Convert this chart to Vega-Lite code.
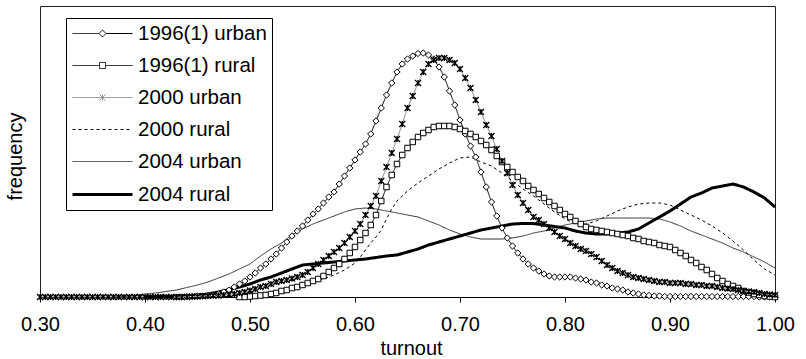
{
"$schema": "https://vega.github.io/schema/vega-lite/v6.json",
"width": 735,
"height": 291,
"autosize": {"type": "none"},
"padding": {"left": 40, "top": 6, "right": 31, "bottom": 62},
"config": {"view": {"stroke": "#222", "strokeWidth": 1}, "font": "Liberation Sans",
  "legend": {"title": null, "orient": "none", "legendX": 26, "legendY": 12, "padding": 5, "rowPadding": 11, "symbolSize": 400,
             "labelFont": "Liberation Sans", "labelFontSize": 20.5, "labelColor": "#000", "labelOffset": 44, "labelLimit": 400,
             "strokeColor": "#000", "fillColor": "#fff"}},
"datasets": {"curves": [
{"s":"1996(1) urban","t":0.43,"f":0},{"s":"1996(1) urban","t":0.435,"f":0},{"s":"1996(1) urban","t":0.44,"f":0.5},{"s":"1996(1) urban","t":0.445,"f":0.5},{"s":"1996(1) urban","t":0.45,"f":1},{"s":"1996(1) urban","t":0.455,"f":1},{"s":"1996(1) urban","t":0.46,"f":1.5},{"s":"1996(1) urban","t":0.465,"f":2},{"s":"1996(1) urban","t":0.47,"f":3},{"s":"1996(1) urban","t":0.475,"f":5},{"s":"1996(1) urban","t":0.48,"f":7},{"s":"1996(1) urban","t":0.485,"f":10},{"s":"1996(1) urban","t":0.49,"f":13},{"s":"1996(1) urban","t":0.495,"f":16},{"s":"1996(1) urban","t":0.5,"f":20},{"s":"1996(1) urban","t":0.505,"f":24},{"s":"1996(1) urban","t":0.51,"f":29},{"s":"1996(1) urban","t":0.515,"f":33},{"s":"1996(1) urban","t":0.52,"f":38},{"s":"1996(1) urban","t":0.525,"f":43},{"s":"1996(1) urban","t":0.53,"f":49},{"s":"1996(1) urban","t":0.535,"f":55},{"s":"1996(1) urban","t":0.54,"f":61},{"s":"1996(1) urban","t":0.545,"f":66},{"s":"1996(1) urban","t":0.55,"f":71},{"s":"1996(1) urban","t":0.555,"f":77},{"s":"1996(1) urban","t":0.56,"f":83},{"s":"1996(1) urban","t":0.565,"f":88},{"s":"1996(1) urban","t":0.57,"f":94},{"s":"1996(1) urban","t":0.575,"f":100},{"s":"1996(1) urban","t":0.58,"f":105},{"s":"1996(1) urban","t":0.585,"f":113},{"s":"1996(1) urban","t":0.59,"f":121},{"s":"1996(1) urban","t":0.595,"f":129},{"s":"1996(1) urban","t":0.6,"f":137},{"s":"1996(1) urban","t":0.605,"f":145},{"s":"1996(1) urban","t":0.61,"f":153},{"s":"1996(1) urban","t":0.615,"f":163},{"s":"1996(1) urban","t":0.62,"f":176},{"s":"1996(1) urban","t":0.625,"f":189},{"s":"1996(1) urban","t":0.63,"f":202},{"s":"1996(1) urban","t":0.635,"f":214},{"s":"1996(1) urban","t":0.64,"f":225},{"s":"1996(1) urban","t":0.645,"f":233},{"s":"1996(1) urban","t":0.65,"f":238},{"s":"1996(1) urban","t":0.655,"f":241},{"s":"1996(1) urban","t":0.66,"f":243.5},{"s":"1996(1) urban","t":0.665,"f":244},{"s":"1996(1) urban","t":0.67,"f":242},{"s":"1996(1) urban","t":0.675,"f":238},{"s":"1996(1) urban","t":0.68,"f":230},{"s":"1996(1) urban","t":0.685,"f":220},{"s":"1996(1) urban","t":0.69,"f":206},{"s":"1996(1) urban","t":0.695,"f":192},{"s":"1996(1) urban","t":0.7,"f":177},{"s":"1996(1) urban","t":0.705,"f":163},{"s":"1996(1) urban","t":0.71,"f":151},{"s":"1996(1) urban","t":0.715,"f":140},{"s":"1996(1) urban","t":0.72,"f":125},{"s":"1996(1) urban","t":0.725,"f":110},{"s":"1996(1) urban","t":0.73,"f":95},{"s":"1996(1) urban","t":0.735,"f":81},{"s":"1996(1) urban","t":0.74,"f":69},{"s":"1996(1) urban","t":0.745,"f":59},{"s":"1996(1) urban","t":0.75,"f":51},{"s":"1996(1) urban","t":0.755,"f":44},{"s":"1996(1) urban","t":0.76,"f":38},{"s":"1996(1) urban","t":0.765,"f":33},{"s":"1996(1) urban","t":0.77,"f":29},{"s":"1996(1) urban","t":0.775,"f":26},{"s":"1996(1) urban","t":0.78,"f":23},{"s":"1996(1) urban","t":0.785,"f":21},{"s":"1996(1) urban","t":0.79,"f":20},{"s":"1996(1) urban","t":0.795,"f":20},{"s":"1996(1) urban","t":0.8,"f":20},{"s":"1996(1) urban","t":0.805,"f":20},{"s":"1996(1) urban","t":0.81,"f":19},{"s":"1996(1) urban","t":0.815,"f":18},{"s":"1996(1) urban","t":0.82,"f":17},{"s":"1996(1) urban","t":0.825,"f":15},{"s":"1996(1) urban","t":0.83,"f":14},{"s":"1996(1) urban","t":0.835,"f":12},{"s":"1996(1) urban","t":0.84,"f":11},{"s":"1996(1) urban","t":0.845,"f":9},{"s":"1996(1) urban","t":0.85,"f":8},{"s":"1996(1) urban","t":0.855,"f":7},{"s":"1996(1) urban","t":0.86,"f":5},{"s":"1996(1) urban","t":0.865,"f":4},{"s":"1996(1) urban","t":0.87,"f":3},{"s":"1996(1) urban","t":0.875,"f":2},{"s":"1996(1) urban","t":0.88,"f":1.5},{"s":"1996(1) urban","t":0.885,"f":1},{"s":"1996(1) urban","t":0.89,"f":1},{"s":"1996(1) urban","t":0.895,"f":0.5},{"s":"1996(1) urban","t":0.9,"f":0.5},{"s":"1996(1) urban","t":0.905,"f":0.5},{"s":"1996(1) urban","t":0.91,"f":0.5},{"s":"1996(1) urban","t":0.915,"f":0.5},{"s":"1996(1) urban","t":0.92,"f":0.5},{"s":"1996(1) urban","t":0.925,"f":0.5},{"s":"1996(1) urban","t":0.93,"f":0.5},{"s":"1996(1) urban","t":0.935,"f":0.5},{"s":"1996(1) urban","t":0.94,"f":0.5},{"s":"1996(1) urban","t":0.945,"f":0.5},{"s":"1996(1) urban","t":0.95,"f":0.5},{"s":"1996(1) urban","t":0.955,"f":0.5},{"s":"1996(1) urban","t":0.96,"f":0.5},{"s":"1996(1) urban","t":0.965,"f":0.5},{"s":"1996(1) urban","t":0.97,"f":0.5},{"s":"1996(1) urban","t":0.975,"f":0.5},{"s":"1996(1) urban","t":0.98,"f":0.5},{"s":"1996(1) urban","t":0.985,"f":0},{"s":"1996(1) urban","t":0.99,"f":0},{"s":"1996(1) urban","t":0.995,"f":0},{"s":"1996(1) urban","t":1.0,"f":0},
{"s":"1996(1) rural","t":0.49,"f":0},{"s":"1996(1) rural","t":0.495,"f":0},{"s":"1996(1) rural","t":0.5,"f":0.5},{"s":"1996(1) rural","t":0.505,"f":1},{"s":"1996(1) rural","t":0.51,"f":1.5},{"s":"1996(1) rural","t":0.515,"f":2},{"s":"1996(1) rural","t":0.52,"f":3},{"s":"1996(1) rural","t":0.525,"f":4},{"s":"1996(1) rural","t":0.53,"f":6},{"s":"1996(1) rural","t":0.535,"f":7},{"s":"1996(1) rural","t":0.54,"f":9},{"s":"1996(1) rural","t":0.545,"f":10},{"s":"1996(1) rural","t":0.55,"f":12},{"s":"1996(1) rural","t":0.555,"f":14},{"s":"1996(1) rural","t":0.56,"f":16},{"s":"1996(1) rural","t":0.565,"f":18},{"s":"1996(1) rural","t":0.57,"f":21},{"s":"1996(1) rural","t":0.575,"f":25},{"s":"1996(1) rural","t":0.58,"f":29},{"s":"1996(1) rural","t":0.585,"f":33},{"s":"1996(1) rural","t":0.59,"f":38},{"s":"1996(1) rural","t":0.595,"f":44},{"s":"1996(1) rural","t":0.6,"f":50},{"s":"1996(1) rural","t":0.605,"f":57},{"s":"1996(1) rural","t":0.61,"f":64},{"s":"1996(1) rural","t":0.615,"f":72},{"s":"1996(1) rural","t":0.62,"f":82},{"s":"1996(1) rural","t":0.625,"f":96},{"s":"1996(1) rural","t":0.63,"f":110},{"s":"1996(1) rural","t":0.635,"f":122},{"s":"1996(1) rural","t":0.64,"f":133},{"s":"1996(1) rural","t":0.645,"f":142},{"s":"1996(1) rural","t":0.65,"f":149},{"s":"1996(1) rural","t":0.655,"f":155},{"s":"1996(1) rural","t":0.66,"f":160},{"s":"1996(1) rural","t":0.665,"f":164},{"s":"1996(1) rural","t":0.67,"f":167},{"s":"1996(1) rural","t":0.675,"f":170},{"s":"1996(1) rural","t":0.68,"f":171},{"s":"1996(1) rural","t":0.685,"f":171},{"s":"1996(1) rural","t":0.69,"f":171},{"s":"1996(1) rural","t":0.695,"f":170},{"s":"1996(1) rural","t":0.7,"f":168},{"s":"1996(1) rural","t":0.705,"f":166},{"s":"1996(1) rural","t":0.71,"f":163},{"s":"1996(1) rural","t":0.715,"f":160},{"s":"1996(1) rural","t":0.72,"f":156},{"s":"1996(1) rural","t":0.725,"f":152},{"s":"1996(1) rural","t":0.73,"f":147},{"s":"1996(1) rural","t":0.735,"f":141},{"s":"1996(1) rural","t":0.74,"f":135},{"s":"1996(1) rural","t":0.745,"f":130},{"s":"1996(1) rural","t":0.75,"f":125},{"s":"1996(1) rural","t":0.755,"f":120},{"s":"1996(1) rural","t":0.76,"f":116},{"s":"1996(1) rural","t":0.765,"f":111},{"s":"1996(1) rural","t":0.77,"f":107},{"s":"1996(1) rural","t":0.775,"f":103},{"s":"1996(1) rural","t":0.78,"f":99},{"s":"1996(1) rural","t":0.785,"f":95},{"s":"1996(1) rural","t":0.79,"f":91},{"s":"1996(1) rural","t":0.795,"f":87},{"s":"1996(1) rural","t":0.8,"f":83},{"s":"1996(1) rural","t":0.805,"f":80},{"s":"1996(1) rural","t":0.81,"f":76},{"s":"1996(1) rural","t":0.815,"f":73},{"s":"1996(1) rural","t":0.82,"f":70},{"s":"1996(1) rural","t":0.825,"f":68},{"s":"1996(1) rural","t":0.83,"f":67},{"s":"1996(1) rural","t":0.835,"f":66},{"s":"1996(1) rural","t":0.84,"f":65},{"s":"1996(1) rural","t":0.845,"f":64},{"s":"1996(1) rural","t":0.85,"f":63},{"s":"1996(1) rural","t":0.855,"f":62},{"s":"1996(1) rural","t":0.86,"f":61},{"s":"1996(1) rural","t":0.865,"f":59},{"s":"1996(1) rural","t":0.87,"f":58},{"s":"1996(1) rural","t":0.875,"f":56},{"s":"1996(1) rural","t":0.88,"f":55},{"s":"1996(1) rural","t":0.885,"f":54},{"s":"1996(1) rural","t":0.89,"f":52},{"s":"1996(1) rural","t":0.895,"f":51},{"s":"1996(1) rural","t":0.9,"f":50},{"s":"1996(1) rural","t":0.905,"f":47},{"s":"1996(1) rural","t":0.91,"f":44},{"s":"1996(1) rural","t":0.915,"f":41},{"s":"1996(1) rural","t":0.92,"f":37},{"s":"1996(1) rural","t":0.925,"f":34},{"s":"1996(1) rural","t":0.93,"f":30},{"s":"1996(1) rural","t":0.935,"f":27},{"s":"1996(1) rural","t":0.94,"f":23},{"s":"1996(1) rural","t":0.945,"f":19},{"s":"1996(1) rural","t":0.95,"f":16},{"s":"1996(1) rural","t":0.955,"f":13},{"s":"1996(1) rural","t":0.96,"f":11},{"s":"1996(1) rural","t":0.965,"f":9},{"s":"1996(1) rural","t":0.97,"f":6},{"s":"1996(1) rural","t":0.975,"f":4.5},{"s":"1996(1) rural","t":0.98,"f":3},{"s":"1996(1) rural","t":0.985,"f":2},{"s":"1996(1) rural","t":0.99,"f":1},{"s":"1996(1) rural","t":0.995,"f":0.5},{"s":"1996(1) rural","t":1.0,"f":0},
{"s":"2000 urban","t":0.3,"f":0},{"s":"2000 urban","t":0.305,"f":0},{"s":"2000 urban","t":0.31,"f":0},{"s":"2000 urban","t":0.315,"f":0},{"s":"2000 urban","t":0.32,"f":0},{"s":"2000 urban","t":0.325,"f":0},{"s":"2000 urban","t":0.33,"f":0},{"s":"2000 urban","t":0.335,"f":0},{"s":"2000 urban","t":0.34,"f":0},{"s":"2000 urban","t":0.345,"f":0},{"s":"2000 urban","t":0.35,"f":0},{"s":"2000 urban","t":0.355,"f":0},{"s":"2000 urban","t":0.36,"f":0},{"s":"2000 urban","t":0.365,"f":0},{"s":"2000 urban","t":0.37,"f":0},{"s":"2000 urban","t":0.375,"f":0},{"s":"2000 urban","t":0.38,"f":0},{"s":"2000 urban","t":0.385,"f":0},{"s":"2000 urban","t":0.39,"f":0},{"s":"2000 urban","t":0.395,"f":0},{"s":"2000 urban","t":0.4,"f":0},{"s":"2000 urban","t":0.405,"f":0},{"s":"2000 urban","t":0.41,"f":0},{"s":"2000 urban","t":0.415,"f":0},{"s":"2000 urban","t":0.42,"f":0},{"s":"2000 urban","t":0.425,"f":0},{"s":"2000 urban","t":0.43,"f":0},{"s":"2000 urban","t":0.435,"f":0},{"s":"2000 urban","t":0.44,"f":0},{"s":"2000 urban","t":0.445,"f":0.5},{"s":"2000 urban","t":0.45,"f":0.5},{"s":"2000 urban","t":0.455,"f":1},{"s":"2000 urban","t":0.46,"f":1},{"s":"2000 urban","t":0.465,"f":1.5},{"s":"2000 urban","t":0.47,"f":1.5},{"s":"2000 urban","t":0.475,"f":2},{"s":"2000 urban","t":0.48,"f":2.5},{"s":"2000 urban","t":0.485,"f":3},{"s":"2000 urban","t":0.49,"f":4},{"s":"2000 urban","t":0.495,"f":5},{"s":"2000 urban","t":0.5,"f":6.5},{"s":"2000 urban","t":0.505,"f":8},{"s":"2000 urban","t":0.51,"f":10},{"s":"2000 urban","t":0.515,"f":11},{"s":"2000 urban","t":0.52,"f":13},{"s":"2000 urban","t":0.525,"f":15},{"s":"2000 urban","t":0.53,"f":16},{"s":"2000 urban","t":0.535,"f":17},{"s":"2000 urban","t":0.54,"f":18.5},{"s":"2000 urban","t":0.545,"f":20},{"s":"2000 urban","t":0.55,"f":22},{"s":"2000 urban","t":0.555,"f":25},{"s":"2000 urban","t":0.56,"f":29},{"s":"2000 urban","t":0.565,"f":33},{"s":"2000 urban","t":0.57,"f":37},{"s":"2000 urban","t":0.575,"f":41},{"s":"2000 urban","t":0.58,"f":45},{"s":"2000 urban","t":0.585,"f":49},{"s":"2000 urban","t":0.59,"f":54},{"s":"2000 urban","t":0.595,"f":60},{"s":"2000 urban","t":0.6,"f":66},{"s":"2000 urban","t":0.605,"f":73},{"s":"2000 urban","t":0.61,"f":82},{"s":"2000 urban","t":0.615,"f":91},{"s":"2000 urban","t":0.62,"f":101},{"s":"2000 urban","t":0.625,"f":116},{"s":"2000 urban","t":0.63,"f":130},{"s":"2000 urban","t":0.635,"f":144},{"s":"2000 urban","t":0.64,"f":158},{"s":"2000 urban","t":0.645,"f":173},{"s":"2000 urban","t":0.65,"f":189},{"s":"2000 urban","t":0.655,"f":201},{"s":"2000 urban","t":0.66,"f":214},{"s":"2000 urban","t":0.665,"f":225},{"s":"2000 urban","t":0.67,"f":233},{"s":"2000 urban","t":0.675,"f":237},{"s":"2000 urban","t":0.68,"f":239},{"s":"2000 urban","t":0.685,"f":239},{"s":"2000 urban","t":0.69,"f":237},{"s":"2000 urban","t":0.695,"f":234},{"s":"2000 urban","t":0.7,"f":228},{"s":"2000 urban","t":0.705,"f":219},{"s":"2000 urban","t":0.71,"f":209},{"s":"2000 urban","t":0.715,"f":197},{"s":"2000 urban","t":0.72,"f":185},{"s":"2000 urban","t":0.725,"f":172},{"s":"2000 urban","t":0.73,"f":161},{"s":"2000 urban","t":0.735,"f":148},{"s":"2000 urban","t":0.74,"f":136},{"s":"2000 urban","t":0.745,"f":124},{"s":"2000 urban","t":0.75,"f":112},{"s":"2000 urban","t":0.755,"f":102},{"s":"2000 urban","t":0.76,"f":94},{"s":"2000 urban","t":0.765,"f":87},{"s":"2000 urban","t":0.77,"f":80},{"s":"2000 urban","t":0.775,"f":77},{"s":"2000 urban","t":0.78,"f":73},{"s":"2000 urban","t":0.785,"f":69},{"s":"2000 urban","t":0.79,"f":65},{"s":"2000 urban","t":0.795,"f":61},{"s":"2000 urban","t":0.8,"f":58},{"s":"2000 urban","t":0.805,"f":54},{"s":"2000 urban","t":0.81,"f":51},{"s":"2000 urban","t":0.815,"f":48},{"s":"2000 urban","t":0.82,"f":46},{"s":"2000 urban","t":0.825,"f":43},{"s":"2000 urban","t":0.83,"f":40},{"s":"2000 urban","t":0.835,"f":36},{"s":"2000 urban","t":0.84,"f":32},{"s":"2000 urban","t":0.845,"f":29},{"s":"2000 urban","t":0.85,"f":26},{"s":"2000 urban","t":0.855,"f":24},{"s":"2000 urban","t":0.86,"f":22},{"s":"2000 urban","t":0.865,"f":20},{"s":"2000 urban","t":0.87,"f":19},{"s":"2000 urban","t":0.875,"f":18},{"s":"2000 urban","t":0.88,"f":17},{"s":"2000 urban","t":0.885,"f":16},{"s":"2000 urban","t":0.89,"f":15},{"s":"2000 urban","t":0.895,"f":15},{"s":"2000 urban","t":0.9,"f":14},{"s":"2000 urban","t":0.905,"f":14},{"s":"2000 urban","t":0.91,"f":14},{"s":"2000 urban","t":0.915,"f":13},{"s":"2000 urban","t":0.92,"f":13},{"s":"2000 urban","t":0.925,"f":12},{"s":"2000 urban","t":0.93,"f":12},{"s":"2000 urban","t":0.935,"f":11},{"s":"2000 urban","t":0.94,"f":11},{"s":"2000 urban","t":0.945,"f":10},{"s":"2000 urban","t":0.95,"f":9},{"s":"2000 urban","t":0.955,"f":8.5},{"s":"2000 urban","t":0.96,"f":8},{"s":"2000 urban","t":0.965,"f":7},{"s":"2000 urban","t":0.97,"f":6},{"s":"2000 urban","t":0.975,"f":5.5},{"s":"2000 urban","t":0.98,"f":5},{"s":"2000 urban","t":0.985,"f":4},{"s":"2000 urban","t":0.99,"f":3},{"s":"2000 urban","t":0.995,"f":2.5},{"s":"2000 urban","t":1.0,"f":2},
{"s":"2000 rural","t":0.5,"f":0},{"s":"2000 rural","t":0.51,"f":0.5},{"s":"2000 rural","t":0.52,"f":1},{"s":"2000 rural","t":0.53,"f":4},{"s":"2000 rural","t":0.54,"f":7},{"s":"2000 rural","t":0.55,"f":10},{"s":"2000 rural","t":0.56,"f":14},{"s":"2000 rural","t":0.57,"f":18},{"s":"2000 rural","t":0.58,"f":22},{"s":"2000 rural","t":0.59,"f":27},{"s":"2000 rural","t":0.6,"f":34},{"s":"2000 rural","t":0.605,"f":40},{"s":"2000 rural","t":0.61,"f":47},{"s":"2000 rural","t":0.615,"f":54},{"s":"2000 rural","t":0.62,"f":60},{"s":"2000 rural","t":0.625,"f":67},{"s":"2000 rural","t":0.63,"f":78},{"s":"2000 rural","t":0.635,"f":88},{"s":"2000 rural","t":0.64,"f":96},{"s":"2000 rural","t":0.65,"f":106},{"s":"2000 rural","t":0.66,"f":114},{"s":"2000 rural","t":0.67,"f":121},{"s":"2000 rural","t":0.68,"f":128},{"s":"2000 rural","t":0.69,"f":134},{"s":"2000 rural","t":0.7,"f":139},{"s":"2000 rural","t":0.71,"f":140},{"s":"2000 rural","t":0.72,"f":135},{"s":"2000 rural","t":0.73,"f":131},{"s":"2000 rural","t":0.74,"f":124},{"s":"2000 rural","t":0.75,"f":116},{"s":"2000 rural","t":0.76,"f":108},{"s":"2000 rural","t":0.77,"f":101},{"s":"2000 rural","t":0.78,"f":93},{"s":"2000 rural","t":0.79,"f":85},{"s":"2000 rural","t":0.8,"f":78},{"s":"2000 rural","t":0.81,"f":73},{"s":"2000 rural","t":0.82,"f":73},{"s":"2000 rural","t":0.83,"f":76},{"s":"2000 rural","t":0.84,"f":81},{"s":"2000 rural","t":0.85,"f":86},{"s":"2000 rural","t":0.86,"f":90},{"s":"2000 rural","t":0.87,"f":93},{"s":"2000 rural","t":0.88,"f":94},{"s":"2000 rural","t":0.89,"f":94},{"s":"2000 rural","t":0.9,"f":92},{"s":"2000 rural","t":0.91,"f":87},{"s":"2000 rural","t":0.92,"f":82},{"s":"2000 rural","t":0.93,"f":77},{"s":"2000 rural","t":0.94,"f":71},{"s":"2000 rural","t":0.95,"f":64},{"s":"2000 rural","t":0.96,"f":56},{"s":"2000 rural","t":0.97,"f":47},{"s":"2000 rural","t":0.98,"f":37},{"s":"2000 rural","t":0.99,"f":28},{"s":"2000 rural","t":1.0,"f":22},
{"s":"2004 urban","t":0.37,"f":0},{"s":"2004 urban","t":0.38,"f":0.5},{"s":"2004 urban","t":0.39,"f":1.5},{"s":"2004 urban","t":0.4,"f":3},{"s":"2004 urban","t":0.41,"f":4},{"s":"2004 urban","t":0.42,"f":5.5},{"s":"2004 urban","t":0.43,"f":7},{"s":"2004 urban","t":0.44,"f":9.5},{"s":"2004 urban","t":0.45,"f":12},{"s":"2004 urban","t":0.46,"f":15},{"s":"2004 urban","t":0.47,"f":19},{"s":"2004 urban","t":0.48,"f":23},{"s":"2004 urban","t":0.49,"f":28},{"s":"2004 urban","t":0.5,"f":33},{"s":"2004 urban","t":0.51,"f":41},{"s":"2004 urban","t":0.52,"f":48},{"s":"2004 urban","t":0.53,"f":54},{"s":"2004 urban","t":0.54,"f":62},{"s":"2004 urban","t":0.55,"f":68},{"s":"2004 urban","t":0.56,"f":73},{"s":"2004 urban","t":0.57,"f":77},{"s":"2004 urban","t":0.58,"f":81},{"s":"2004 urban","t":0.59,"f":85},{"s":"2004 urban","t":0.6,"f":88},{"s":"2004 urban","t":0.61,"f":89},{"s":"2004 urban","t":0.62,"f":88},{"s":"2004 urban","t":0.63,"f":86},{"s":"2004 urban","t":0.64,"f":84},{"s":"2004 urban","t":0.65,"f":82},{"s":"2004 urban","t":0.66,"f":80},{"s":"2004 urban","t":0.67,"f":76},{"s":"2004 urban","t":0.68,"f":72},{"s":"2004 urban","t":0.69,"f":67},{"s":"2004 urban","t":0.7,"f":63},{"s":"2004 urban","t":0.71,"f":60},{"s":"2004 urban","t":0.72,"f":58},{"s":"2004 urban","t":0.73,"f":58},{"s":"2004 urban","t":0.74,"f":58},{"s":"2004 urban","t":0.75,"f":59},{"s":"2004 urban","t":0.76,"f":61},{"s":"2004 urban","t":0.77,"f":64},{"s":"2004 urban","t":0.78,"f":66},{"s":"2004 urban","t":0.79,"f":69},{"s":"2004 urban","t":0.8,"f":72},{"s":"2004 urban","t":0.81,"f":74},{"s":"2004 urban","t":0.82,"f":76},{"s":"2004 urban","t":0.83,"f":78},{"s":"2004 urban","t":0.84,"f":79},{"s":"2004 urban","t":0.85,"f":79},{"s":"2004 urban","t":0.86,"f":79},{"s":"2004 urban","t":0.87,"f":79},{"s":"2004 urban","t":0.88,"f":79},{"s":"2004 urban","t":0.89,"f":78},{"s":"2004 urban","t":0.9,"f":75},{"s":"2004 urban","t":0.91,"f":71},{"s":"2004 urban","t":0.92,"f":66},{"s":"2004 urban","t":0.93,"f":62},{"s":"2004 urban","t":0.94,"f":58},{"s":"2004 urban","t":0.95,"f":54},{"s":"2004 urban","t":0.96,"f":49},{"s":"2004 urban","t":0.97,"f":45},{"s":"2004 urban","t":0.98,"f":40},{"s":"2004 urban","t":0.99,"f":35},{"s":"2004 urban","t":1.0,"f":29},
{"s":"2004 rural","t":0.4,"f":0},{"s":"2004 rural","t":0.42,"f":0.5},{"s":"2004 rural","t":0.44,"f":1},{"s":"2004 rural","t":0.45,"f":1.5},{"s":"2004 rural","t":0.46,"f":3},{"s":"2004 rural","t":0.47,"f":5},{"s":"2004 rural","t":0.48,"f":7.5},{"s":"2004 rural","t":0.49,"f":10},{"s":"2004 rural","t":0.5,"f":13},{"s":"2004 rural","t":0.51,"f":17},{"s":"2004 rural","t":0.52,"f":20},{"s":"2004 rural","t":0.53,"f":24},{"s":"2004 rural","t":0.54,"f":28},{"s":"2004 rural","t":0.55,"f":32},{"s":"2004 rural","t":0.56,"f":33},{"s":"2004 rural","t":0.57,"f":34},{"s":"2004 rural","t":0.58,"f":35},{"s":"2004 rural","t":0.59,"f":36},{"s":"2004 rural","t":0.6,"f":37},{"s":"2004 rural","t":0.61,"f":38},{"s":"2004 rural","t":0.62,"f":39.5},{"s":"2004 rural","t":0.63,"f":41},{"s":"2004 rural","t":0.64,"f":42},{"s":"2004 rural","t":0.65,"f":45},{"s":"2004 rural","t":0.66,"f":48},{"s":"2004 rural","t":0.67,"f":52},{"s":"2004 rural","t":0.68,"f":55},{"s":"2004 rural","t":0.69,"f":58},{"s":"2004 rural","t":0.7,"f":61},{"s":"2004 rural","t":0.71,"f":64},{"s":"2004 rural","t":0.72,"f":67},{"s":"2004 rural","t":0.73,"f":69},{"s":"2004 rural","t":0.74,"f":71},{"s":"2004 rural","t":0.75,"f":73},{"s":"2004 rural","t":0.76,"f":73.5},{"s":"2004 rural","t":0.77,"f":73.5},{"s":"2004 rural","t":0.78,"f":72},{"s":"2004 rural","t":0.79,"f":70.5},{"s":"2004 rural","t":0.8,"f":69},{"s":"2004 rural","t":0.81,"f":66},{"s":"2004 rural","t":0.82,"f":64},{"s":"2004 rural","t":0.83,"f":63},{"s":"2004 rural","t":0.84,"f":63},{"s":"2004 rural","t":0.85,"f":64},{"s":"2004 rural","t":0.86,"f":65},{"s":"2004 rural","t":0.87,"f":68},{"s":"2004 rural","t":0.88,"f":74},{"s":"2004 rural","t":0.89,"f":80},{"s":"2004 rural","t":0.9,"f":86},{"s":"2004 rural","t":0.91,"f":93},{"s":"2004 rural","t":0.92,"f":100},{"s":"2004 rural","t":0.93,"f":104},{"s":"2004 rural","t":0.94,"f":109},{"s":"2004 rural","t":0.95,"f":111},{"s":"2004 rural","t":0.96,"f":113},{"s":"2004 rural","t":0.97,"f":110},{"s":"2004 rural","t":0.98,"f":105},{"s":"2004 rural","t":0.99,"f":99},{"s":"2004 rural","t":1.0,"f":90}
]},
"data": {"name": "curves"},
"encoding": {
  "x": {"field": "t", "type": "quantitative",
        "scale": {"domain": [0.3, 1.0], "nice": false, "zero": false},
        "axis": {"values": [0.3, 0.4, 0.5, 0.6, 0.7, 0.8, 0.9, 1.0], "format": ".2f", "title": "turnout", "grid": false,
                 "tickSize": 5, "tickColor": "#000", "domainColor": "#000", "labelColor": "#000", "titleColor": "#000",
                 "labelFont": "Liberation Sans", "labelFontSize": 20, "labelPadding": 12, "labelDx": 2.5, "labelFlush": false,
                 "titleFont": "Liberation Sans", "titleFontSize": 20, "titleFontWeight": "normal",
                 "titleX": 371, "titleY": 57, "titleBaseline": "alphabetic"}},
  "y": {"field": "f", "type": "quantitative",
        "scale": {"domain": [0, 291], "nice": false},
        "axis": {"title": "frequency", "labels": false, "ticks": false, "domain": false, "grid": false,
                 "titleFont": "Liberation Sans", "titleFontSize": 20, "titleFontWeight": "normal", "titleColor": "#000",
                 "titleX": -19, "titleY": 150, "titleBaseline": "alphabetic"}}
},
"layer": [
  {"mark": {"type": "line", "interpolate": "linear"},
   "encoding": {
     "stroke": {"field": "s", "type": "nominal",
                "scale": {"domain": ["1996(1) urban", "1996(1) rural", "2000 urban", "2000 rural", "2004 urban", "2004 rural"],
                          "range": ["#000000", "#000000", "#808080", "#000000", "#303030", "#000000"]}},
     "strokeDash": {"field": "s", "type": "nominal",
                "scale": {"domain": ["1996(1) urban", "1996(1) rural", "2000 urban", "2000 rural", "2004 urban", "2004 rural"],
                          "range": [[1, 0], [1, 0], [1, 0], [3, 3], [1, 0], [1, 0]]}},
     "strokeWidth": {"field": "s", "type": "nominal",
                "scale": {"type": "ordinal", "domain": ["1996(1) urban", "1996(1) rural", "2000 urban", "2000 rural", "2004 urban", "2004 rural"],
                          "range": [1, 1, 1, 1, 1, 3]}}
   }},
  {"transform": [{"filter": "datum.s === '1996(1) urban'"}],
   "mark": {"type": "point", "shape": "diamond", "size": 40, "filled": true, "fill": "#ffffff", "stroke": "#000000", "strokeWidth": 1, "opacity": 1}},
  {"transform": [{"filter": "datum.s === '1996(1) rural'"}],
   "mark": {"type": "point", "shape": "square", "size": 30, "filled": true, "fill": "#ffffff", "stroke": "#000000", "strokeWidth": 1, "opacity": 1}},
  {"transform": [{"filter": "datum.s === '2000 urban'"}],
   "mark": {"type": "point", "shape": "M-1,-1L1,1M-1,1L1,-1M0,-1L0,1", "size": 36, "filled": false, "stroke": "#000000", "strokeWidth": 1.3, "opacity": 1}},
  {"data": {"values": []},
   "mark": {"type": "point", "filled": false, "opacity": 1},
   "encoding": {
     "shape": {"field": "s", "type": "nominal",
               "scale": {"domain": ["1996(1) urban", "1996(1) rural", "2000 urban", "2000 rural", "2004 urban", "2004 rural"],
                         "range": ["M-1,0H1.65M2.35,0H5M2,-0.35L2.35,0L2,0.35L1.65,0Z", "M-1,0H1.7M2.3,0H5M1.7,-0.3H2.3V0.3H1.7Z", "M-1,0H5M1.7,-0.3L2.3,0.3M1.7,0.3L2.3,-0.3M2,-0.3V0.3", "M-1,0H5", "M-1,0H5", "M-1,0H5"]}},
     "stroke": {"field": "s", "type": "nominal",
                "scale": {"domain": ["1996(1) urban", "1996(1) rural", "2000 urban", "2000 rural", "2004 urban", "2004 rural"],
                          "range": ["#000000", "#000000", "#808080", "#000000", "#303030", "#000000"]}},
     "strokeDash": {"field": "s", "type": "nominal",
                "scale": {"domain": ["1996(1) urban", "1996(1) rural", "2000 urban", "2000 rural", "2004 urban", "2004 rural"],
                          "range": [[1, 0], [1, 0], [1, 0], [3, 3], [1, 0], [1, 0]]}},
     "strokeWidth": {"field": "s", "type": "nominal",
                "scale": {"type": "ordinal", "domain": ["1996(1) urban", "1996(1) rural", "2000 urban", "2000 rural", "2004 urban", "2004 rural"],
                          "range": [1, 1, 1, 1, 1, 3]}}
   }}
]
}
